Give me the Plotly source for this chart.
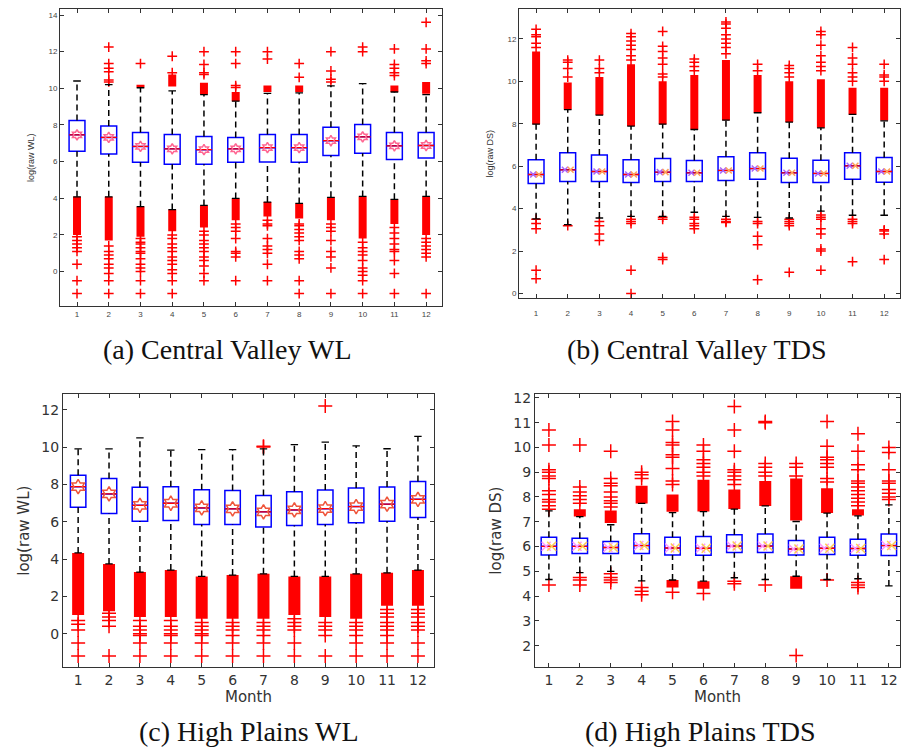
import plotly.graph_objects as go

MONTHS = list(range(1, 13))
MONTH_LABELS = [str(m) for m in MONTHS]

# ---------------- (a) Central Valley WL ----------------
A_Q1 = [6.56, 6.41, 5.96, 5.85, 5.85, 5.96, 5.98, 5.96, 6.34, 6.45, 6.12, 6.20]
A_MED = [7.46, 7.32, 6.83, 6.70, 6.65, 6.70, 6.76, 6.76, 7.14, 7.35, 6.86, 6.88]
A_Q3 = [8.24, 7.95, 7.59, 7.48, 7.37, 7.32, 7.48, 7.48, 7.88, 8.02, 7.59, 7.59]
A_WHI = [10.40, 10.20, 10.03, 9.86, 9.66, 9.30, 9.72, 9.75, 10.13, 10.26, 9.80, 9.66]
A_WLO = [4.08, 4.08, 3.54, 3.38, 3.61, 3.99, 3.79, 3.72, 4.05, 4.10, 3.94, 4.10]
A_LOBAND = [(2.0, 4.08), (1.7, 4.08), (1.9, 3.54), (2.2, 3.38), (2.4, 3.61), (2.8, 3.99),
            (3.0, 3.79), (2.9, 3.72), (2.8, 4.05), (1.8, 4.10), (2.6, 3.94), (2.0, 4.10)]
A_HIBAND = [None, None, (10.05, 10.2), (10.1, 10.75), (9.66, 10.3), (9.3, 9.8),
            (9.8, 10.15), (9.8, 10.15), None, None, (9.8, 10.15), (9.7, 10.35)]
A_OUT = [
    [1.9, 1.7, 1.5, 1.3, 1.1, 0.4, -0.5, -1.2],
    [1.4, 1.1, 0.9, 0.7, 0.4, 0.2, -0.1, -0.5, -1.2, 10.35, 10.45, 10.9, 11.1, 11.35, 12.25],
    [1.8, 1.6, 1.5, 1.3, 1.1, 1.0, 0.7, 0.4, 0.2, 0.0, -0.5, -1.2, 11.35],
    [2.0, 1.8, 1.5, 1.3, 1.1, 0.8, 0.6, 0.4, 0.1, -0.1, -0.5, -1.2, 10.85, 11.75],
    [2.2, 2.0, 1.7, 1.5, 1.3, 1.1, 0.8, 0.6, 0.3, -0.1, -0.5, 10.75, 10.85, 11.3, 12.0],
    [2.6, 2.4, 2.2, 1.8, 1.1, 1.0, 0.8, -0.5, 10.05, 10.15, 11.35, 12.0],
    [2.8, 2.6, 2.5, 1.8, 1.4, 1.2, 1.0, 0.4, -0.5, 11.6, 12.0],
    [2.6, 2.5, 2.3, 2.1, 1.9, 1.7, 1.1, 0.9, 0.7, -0.5, -1.2, 10.6, 11.35],
    [2.6, 2.4, 2.2, 1.7, 1.1, 0.8, 0.2, -1.2, 10.35, 10.5, 10.95, 12.0],
    [1.6, 1.3, 1.1, 0.9, 0.6, 0.2, 0.0, -0.2, -0.5, -1.2, 12.0, 12.25],
    [2.4, 2.1, 1.8, 1.5, 1.2, 1.1, 0.6, -0.1, -1.2, 10.7, 10.85, 11.1, 11.3, 12.15],
    [1.8, 1.6, 1.4, 1.2, 1.0, 0.8, -1.2, 11.35, 11.5, 12.15, 13.6],
]

# ---------------- (b) Central Valley TDS ----------------
B_Q1 = [5.19, 5.28, 5.28, 5.23, 5.28, 5.28, 5.33, 5.38, 5.23, 5.23, 5.38, 5.25]
B_MED = [5.61, 5.83, 5.75, 5.61, 5.72, 5.69, 5.80, 5.89, 5.69, 5.66, 6.02, 5.75]
B_Q3 = [6.31, 6.64, 6.53, 6.31, 6.36, 6.27, 6.45, 6.63, 6.38, 6.28, 6.63, 6.41]
B_WHI = [7.98, 8.67, 8.41, 7.89, 7.98, 7.73, 8.17, 8.52, 8.08, 7.81, 8.44, 8.14]
B_WLO = [3.52, 3.25, 3.56, 3.64, 3.64, 3.83, 3.64, 3.59, 3.56, 3.88, 3.69, 3.69]
B_LOBAND = [None] * 12
B_HIBAND = [(7.98, 11.4), (8.67, 9.95), (8.41, 10.2), (7.89, 10.8), (7.98, 10.0), (7.73, 10.3),
            (8.17, 11.0), (8.52, 10.3), (8.08, 10.0), (7.81, 10.1), (8.44, 9.7), (8.15, 9.7)]
B_OUT = [
    [3.5, 3.3, 3.05, 1.1, 0.7, 11.6, 11.8, 12.1, 12.2, 12.45],
    [3.2, 10.2, 10.6, 10.9, 11.0],
    [3.4, 3.2, 2.8, 2.5, 10.4, 10.6, 11.0],
    [3.5, 3.4, 3.3, 1.1, 0.0, 11.0, 11.2, 11.5, 11.7, 11.9, 12.1, 12.25],
    [3.6, 3.5, 1.7, 1.6, 10.2, 10.35, 10.8, 11.1, 11.4, 11.65, 12.35],
    [3.6, 3.5, 3.3, 3.2, 3.05, 10.5, 10.7, 10.9, 11.05],
    [3.5, 3.4, 3.35, 11.3, 11.6, 11.8, 12.0, 12.2, 12.5, 12.7, 12.8],
    [3.4, 3.3, 2.7, 2.3, 0.65, 10.5, 10.8],
    [3.5, 3.4, 3.3, 3.2, 1.0, 10.2, 10.4, 10.6, 10.75],
    [3.7, 3.6, 3.5, 3.05, 2.8, 2.1, 2.0, 1.1, 10.5, 10.7, 10.9, 11.2, 11.7, 12.2, 12.35],
    [3.5, 3.4, 3.3, 1.5, 10.0, 10.2, 10.4, 10.8, 11.1, 11.6],
    [3.0, 2.95, 2.8, 1.6, 10.0, 10.2, 10.3, 10.8],
]

# ---------------- (c) High Plains WL ----------------
C_Q1 = [6.78, 6.44, 6.03, 6.06, 5.85, 5.85, 5.72, 5.80, 5.85, 5.94, 6.03, 6.22]
C_MED = [7.88, 7.49, 6.88, 6.99, 6.74, 6.69, 6.53, 6.63, 6.70, 6.81, 6.94, 7.20]
C_Q3 = [8.49, 8.31, 7.85, 7.88, 7.72, 7.67, 7.40, 7.61, 7.70, 7.81, 7.86, 8.15]
C_WHI = [9.90, 9.90, 10.49, 9.84, 9.86, 9.86, 9.90, 10.13, 10.27, 10.07, 9.91, 10.57]
C_WLO = [4.33, 3.74, 3.30, 3.41, 3.07, 3.14, 3.21, 3.07, 3.07, 3.21, 3.26, 3.41]
C_LOBAND = [(1.0, 4.33), (1.2, 3.74), (0.9, 3.30), (0.9, 3.41), (0.8, 3.07), (0.8, 3.14),
            (0.8, 3.21), (1.0, 3.07), (0.9, 3.07), (0.8, 3.21), (1.5, 3.26), (1.5, 3.41)]
C_HIBAND = [None] * 12
C_OUT = [
    [0.7, 0.5, 0.2, -0.5, -1.2],
    [1.1, 0.9, 0.7, 0.4, -1.2],
    [0.7, 0.4, 0.2, 0.0, -0.1, -0.5, -1.2],
    [0.7, 0.4, 0.2, 0.0, -0.1, -0.5, -1.2],
    [0.6, 0.4, 0.2, 0.0, -0.1, -0.5, -1.2],
    [0.6, 0.4, 0.2, -0.1, -0.5, -1.2],
    [0.6, 0.4, 0.2, -0.1, -0.5, -1.2, 10.0, 10.05],
    [0.8, 0.6, 0.4, 0.2, -0.5, -1.2],
    [0.6, 0.4, 0.2, -0.1, -1.2, 12.2],
    [0.6, 0.4, 0.2, -0.1, -0.5, -1.2],
    [1.3, 1.1, 0.9, 0.6, 0.4, 0.2, -0.1, -0.5, -1.2],
    [1.3, 1.1, 0.9, 0.6, 0.4, 0.2, -0.5, -1.2],
]

# ---------------- (d) High Plains TDS ----------------
D_Q1 = [5.66, 5.72, 5.72, 5.72, 5.66, 5.65, 5.76, 5.76, 5.66, 5.68, 5.65, 5.64]
D_MED = [6.01, 6.01, 5.96, 6.04, 5.94, 5.93, 6.02, 6.02, 5.90, 5.93, 5.92, 6.04]
D_Q3 = [6.37, 6.33, 6.20, 6.52, 6.37, 6.40, 6.48, 6.51, 6.24, 6.37, 6.29, 6.51]
D_WHI = [7.44, 7.21, 6.88, 7.74, 7.37, 7.41, 7.51, 7.64, 7.01, 7.35, 7.24, 7.68]
D_WLO = [4.67, 4.95, 5.00, 4.61, 4.65, 4.60, 4.74, 4.67, 4.80, 4.67, 4.70, 4.41]
D_LOBAND = [None, None, None, None, (4.35, 4.65), (4.3, 4.6), None, None, (4.3, 4.8), None, None, None]
D_HIBAND = [None, (7.21, 7.5), (6.95, 7.45), (7.74, 8.45), (7.4, 8.1), (7.41, 8.7),
            (7.51, 8.3), (7.64, 8.65), (7.05, 8.75), (7.35, 8.35), (7.25, 7.5), None]
D_OUT = [
    [4.45, 7.5, 7.65, 7.8, 7.9, 8.1, 8.25, 8.75, 8.85, 9.0, 9.1, 10.1, 10.7],
    [4.75, 4.65, 4.45, 7.75, 7.9, 8.05, 8.2, 8.4, 10.1],
    [4.9, 4.75, 4.65, 4.55, 7.6, 7.75, 7.85, 8.0, 8.2, 8.45, 8.55, 8.75, 9.85],
    [4.35, 4.2, 4.05, 8.75, 8.9, 9.0],
    [4.15, 8.5, 8.65, 9.15, 9.6, 9.7, 10.1, 10.2, 10.7, 11.05],
    [4.1, 8.85, 9.0, 9.2, 9.35, 9.5, 9.85, 10.1],
    [4.6, 4.5, 8.5, 8.7, 8.85, 9.0, 9.1, 9.85, 10.7, 11.65],
    [4.45, 8.85, 9.0, 9.2, 9.35, 11.0, 11.05],
    [1.6, 8.85, 9.2, 9.35],
    [4.65, 8.6, 8.75, 9.2, 9.35, 9.5, 9.6, 10.05, 11.05],
    [4.55, 4.45, 4.35, 7.65, 7.8, 7.95, 8.1, 8.25, 8.4, 8.55, 8.65, 9.1, 9.3, 9.85, 10.55],
    [7.9, 8.0, 8.15, 8.3, 8.55, 8.65, 9.1, 9.8, 10.0],
]

RED = "#ff0000"
BLUE = "#0000ff"

fig = go.Figure()


def vsegs(xs, lo, hi):
    X, Y = [], []
    for x, a, b in zip(xs, lo, hi):
        X += [x, x, None]
        Y += [a, b, None]
    return X, Y


def hsegs(xs, ys, h):
    X, Y = [], []
    for x, y in zip(xs, ys):
        X += [x - h, x + h, None]
        Y += [y, y, None]
    return X, Y


def add_panel(ax, q1, med, q3, wlo, whi, loband, hiband, outs, big, mean_style):
    xa = "x" + ax
    ya = "y" + ax
    band_w = 12 if big else 8
    msize = 10 if big else 7
    # dense outlier bands
    bx, by = [], []
    for m, lb, hb in zip(MONTHS, loband, hiband):
        for b in (lb, hb):
            if b is not None:
                bx += [m, m, None]
                by += [b[0], b[1], None]
    fig.add_trace(go.Scatter(x=bx, y=by, mode="lines", xaxis=xa, yaxis=ya,
                             line=dict(color=RED, width=band_w), showlegend=False, hoverinfo="skip"))
    # individual outliers
    ox, oy = [], []
    for m, vals in zip(MONTHS, outs):
        for v in vals:
            ox.append(m)
            oy.append(v)
    fig.add_trace(go.Scatter(x=ox, y=oy, mode="markers", xaxis=xa, yaxis=ya,
                             marker=dict(symbol="cross-thin", size=msize,
                                         line=dict(color=RED, width=1.5)),
                             showlegend=False))
    # whiskers (dashed)
    wx1, wy1 = vsegs(MONTHS, q3, whi)
    wx2, wy2 = vsegs(MONTHS, wlo, q1)
    fig.add_trace(go.Scatter(x=wx1 + wx2, y=wy1 + wy2, mode="lines", xaxis=xa, yaxis=ya,
                             line=dict(color="black", width=1.5, dash="6px,4px"),
                             showlegend=False, hoverinfo="skip"))
    # caps
    cx1, cy1 = hsegs(MONTHS, whi, 0.12)
    cx2, cy2 = hsegs(MONTHS, wlo, 0.12)
    fig.add_trace(go.Scatter(x=cx1 + cx2, y=cy1 + cy2, mode="lines", xaxis=xa, yaxis=ya,
                             line=dict(color="black", width=1.3),
                             showlegend=False, hoverinfo="skip"))
    # boxes
    fig.add_trace(go.Box(x=MONTHS, q1=q1, median=med, q3=q3, lowerfence=q1, upperfence=q3,
                         xaxis=xa, yaxis=ya, width=0.5, whiskerwidth=0,
                         line=dict(color=BLUE, width=1.5), fillcolor="rgba(255,255,255,1)",
                         boxpoints=False, showlegend=False))
    # median lines
    mx, my = hsegs(MONTHS, med, 0.25)
    fig.add_trace(go.Scatter(x=mx, y=my, mode="lines", xaxis=xa, yaxis=ya,
                             line=dict(color=RED, width=1.3), showlegend=False, hoverinfo="skip"))
    # center markers
    if mean_style == "hex":
        fig.add_trace(go.Scatter(x=MONTHS, y=med, mode="markers", xaxis=xa, yaxis=ya,
                                 marker=dict(symbol="hexagram-open", size=msize + 1,
                                             line=dict(color=RED, width=1.5)),
                                 showlegend=False))
    else:
        for dx in (-0.09, 0.09):
            fig.add_trace(go.Scatter(x=[m + dx for m in MONTHS], y=med, mode="markers",
                                     xaxis=xa, yaxis=ya,
                                     marker=dict(symbol="x-thin-open", size=msize - 1,
                                                 line=dict(color=RED, width=1.5)),
                                     showlegend=False))


add_panel("", A_Q1, A_MED, A_Q3, A_WLO, A_WHI, A_LOBAND, A_HIBAND, A_OUT, False, "hex")
add_panel("2", B_Q1, B_MED, B_Q3, B_WLO, B_WHI, B_LOBAND, B_HIBAND, B_OUT, False, "x")
add_panel("3", C_Q1, C_MED, C_Q3, C_WLO, C_WHI, C_LOBAND, C_HIBAND, C_OUT, True, "hex")
add_panel("4", D_Q1, D_MED, D_Q3, D_WLO, D_WHI, D_LOBAND, D_HIBAND, D_OUT, True, "x")

W, H = 902, 749


def xdom(a, b):
    return [a / W, b / W]


def ydom(top, bot):
    return [1 - bot / H, 1 - top / H]


AX_COMMON = dict(showgrid=False, zeroline=False, showline=True, linecolor="#333333",
                 linewidth=1, mirror="ticks", ticks="inside", tickcolor="#333333",
                 ticklen=4)

small_font = dict(family="Liberation Sans, Arial", size=8, color="#444444")
big_font = dict(family="DejaVu Sans, Arial", size=14, color="#333333")

fig.update_layout(
    width=W, height=H, margin=dict(l=0, r=0, t=0, b=0),
    paper_bgcolor="white", plot_bgcolor="white", boxmode="overlay",
    xaxis=dict(domain=xdom(60, 442), range=[0.464, 12.5], anchor="y", tickvals=MONTHS,
               ticktext=MONTH_LABELS, tickfont=small_font, **AX_COMMON),
    yaxis=dict(domain=ydom(5, 304), range=[-1.9, 14.33], anchor="x", tickvals=list(range(0, 15, 2)),
               tickfont=small_font, title=dict(text="log(raw WL)", font=dict(family="Liberation Sans", size=9, color="#333"), standoff=12),
               **AX_COMMON),
    xaxis2=dict(domain=xdom(519, 900), range=[0.46, 12.5], anchor="y2", tickvals=MONTHS,
                ticktext=MONTH_LABELS, tickfont=small_font, ticklabelstandoff=7, **AX_COMMON),
    yaxis2=dict(domain=ydom(5, 296), range=[-0.23, 13.41], anchor="x2", tickvals=list(range(0, 13, 2)),
                tickfont=small_font, title=dict(text="log(raw DS)", font=dict(family="Liberation Sans", size=9, color="#333"), standoff=12),
                **AX_COMMON),
    xaxis3=dict(domain=xdom(63, 434), range=[0.51, 12.52], anchor="y3", tickvals=MONTHS,
                ticktext=MONTH_LABELS, tickfont=big_font,
                title=dict(text="Month", font=dict(family="DejaVu Sans", size=15, color="#333"), standoff=2),
                **AX_COMMON),
    yaxis3=dict(domain=ydom(392, 667), range=[-1.81, 12.85], anchor="x3", tickvals=list(range(0, 13, 2)),
                tickfont=big_font, title=dict(text="log(raw WL)", font=dict(family="DejaVu Sans", size=15, color="#333"), standoff=8),
                **AX_COMMON),
    xaxis4=dict(domain=xdom(535, 900), range=[0.55, 12.36], anchor="y4", tickvals=MONTHS,
                ticktext=MONTH_LABELS, tickfont=big_font,
                title=dict(text="Month", font=dict(family="DejaVu Sans", size=15, color="#333"), standoff=2),
                **AX_COMMON),
    yaxis4=dict(domain=ydom(392, 667), range=[1.12, 12.16], anchor="x4", tickvals=list(range(2, 13)),
                tickfont=big_font, title=dict(text="log(raw DS)", font=dict(family="DejaVu Sans", size=15, color="#333"), standoff=8),
                **AX_COMMON),
)

CAPTIONS = ["(a) Central Valley WL", "(b) Central Valley TDS", "(c) High Plains WL", "(d) High Plains TDS"]
CAP_POS = [(227, 347), (696, 347), (249, 731), (700, 731)]
for text, (cx, cy) in zip(CAPTIONS, CAP_POS):
    fig.add_annotation(text=text, x=cx / W, y=1 - cy / H, xref="paper", yref="paper",
                       showarrow=False, xanchor="center", yanchor="middle",
                       font=dict(family="Liberation Serif, DejaVu Serif", size=28, color="#111"))

fig.write_html("out.html")
